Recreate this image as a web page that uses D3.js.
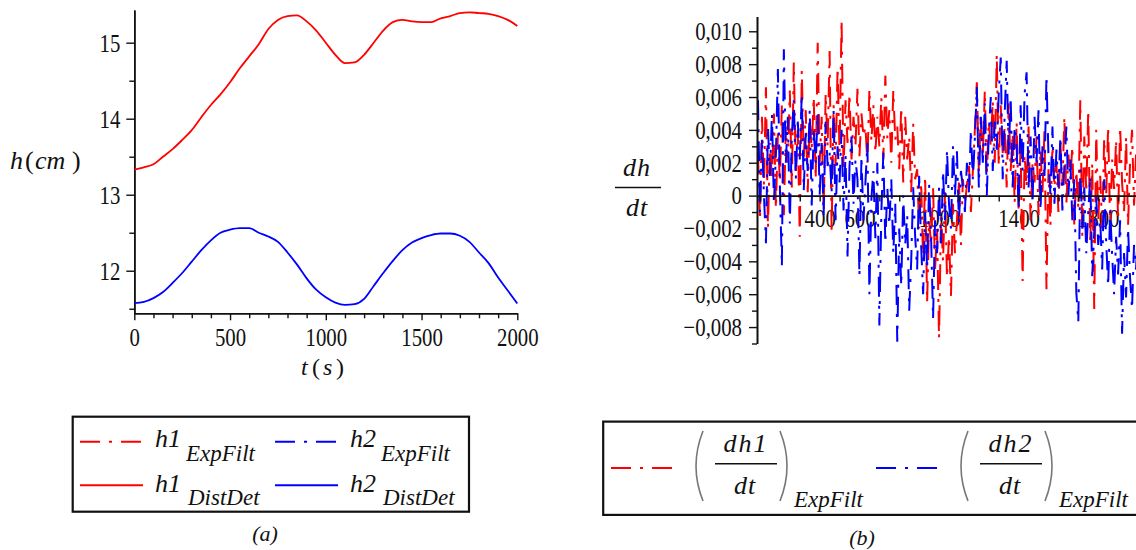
<!DOCTYPE html>
<html><head><meta charset="utf-8">
<script src="https://cdn.jsdelivr.net/npm/d3@7"></script>
<style>
body{margin:0;background:#fff}
svg{display:block}
text{font-family:"Liberation Serif","DejaVu Serif",serif;fill:#111}
</style>
</head><body>
<svg id="c" width="1136" height="550"></svg>
<script>
// ---------- DATA ----------
// (a) heights h(cm) vs t(s)
const tH = [0,50,100,150,200,250,300,350,400,450,500,550,600,650,700,750,800,850,900,950,1000,1050,1100,1150,1200,1250,1300,1350,1400,1450,1500,1550,1600,1650,1700,1750,1800,1850,1900,1950,2000];
const h1DistDet = [13.33,13.36,13.40,13.50,13.60,13.72,13.85,14.02,14.18,14.32,14.48,14.66,14.82,14.98,15.18,15.30,15.35,15.36,15.28,15.16,15.00,14.84,14.73,14.74,14.84,15.00,15.16,15.27,15.30,15.28,15.27,15.27,15.32,15.35,15.39,15.40,15.39,15.38,15.35,15.30,15.22];
const h2DistDet = [11.575,11.59,11.64,11.72,11.84,11.97,12.12,12.27,12.40,12.50,12.54,12.56,12.56,12.50,12.45,12.38,12.24,12.08,11.90,11.75,11.65,11.58,11.55,11.56,11.63,11.80,11.97,12.13,12.27,12.37,12.43,12.47,12.49,12.49,12.46,12.38,12.24,12.10,11.91,11.74,11.57];
const hMajorTicks = [12,13,14,15];
const hMinorTicks = [11.5,12.5,13.5,14.5];
const tMajorTicks = [0,500,1000,1500,2000];
const tMinorTicks = [100,200,300,400,600,700,800,900,1100,1200,1300,1400,1600,1700,1800,1900];

// (b) derivatives dh/dt (values in units of 0.001 cm/s)
const tD = [90,100,110,120,130,140,150,160,170,180,190,200,210,220,230,240,250,260,270,280,290,300,310,320,330,340,350,360,370,380,390,400,410,420,430,440,450,460,470,480,490,500,510,520,530,540,550,560,570,580,590,600,610,620,630,640,650,660,670,680,690,700,710,720,730,740,750,760,770,780,790,800,810,820,830,840,850,860,870,880,890,900,910,920,930,940,950,960,970,980,990,1000,1010,1020,1030,1040,1050,1060,1070,1080,1090,1100,1110,1120,1130,1140,1150,1160,1170,1180,1190,1200,1210,1220,1230,1240,1250,1260,1270,1280,1290,1300,1310,1320,1330,1340,1350,1360,1370,1380,1390,1400,1410,1420,1430,1440,1450,1460,1470,1480,1490,1500,1510,1520,1530,1540,1550,1560,1570,1580,1590,1600,1610,1620,1630,1640,1650,1660,1670,1680,1690,1700,1710,1720,1730,1740,1750,1760,1770,1780,1790,1800,1810,1820,1830,1840,1850,1860,1870,1880,1890,1900,1910,1920,1930,1940,1950,1960,1970,1980,1990,2000];
const dh1ExpFilt = [
 2.5,-1.5,4.8,0.6,6.6,-2.0,3.2,1.0,5.0,-0.8,
 3.8,0.8,5.6,-1.2,4.2,2.0,6.4,0.5,8.1,1.5,
 4.0,-2.5,7.6,2.2,5.2,0.2,4.6,2.8,6.0,1.0,
 9.3,2.0,4.8,-1.0,6.2,3.0,8.8,-2.3,5.5,1.8,
 7.8,2.6,10.7,1.5,5.8,3.2,6.2,2.2,4.8,3.0,
 6.5,2.4,5.0,3.6,4.2,2.0,6.5,3.3,5.5,2.6,
 4.8,3.0,6.0,2.2,7.3,3.5,5.2,2.0,6.4,3.4,
 4.2,1.6,5.4,0.8,4.8,2.2,3.6,0.2,4.4,1.0,
 1.6,-2.0,0.8,-4.0,1.2,-6.5,-1.5,-3.0,0.5,-4.5,
 -2.0,-8.7,-1.2,-4.0,0.2,-5.0,-2.5,-6.1,-0.5,-3.5,
 -1.5,0.8,-3.0,1.0,-0.5,0.6,2.0,-1.0,1.5,4.0,
 6.9,1.5,5.0,2.4,6.4,1.2,4.5,3.0,5.8,2.0,
 8.6,1.8,5.5,2.6,4.2,0.5,5.6,1.5,3.8,-0.5,
 4.5,-1.0,3.0,-5.2,2.5,0.5,4.2,-1.5,2.0,0.8,
 3.6,-1.2,2.8,0.2,4.0,-5.7,1.6,-1.8,3.0,0.5,
 2.0,-1.0,3.2,0.6,4.8,-0.5,2.5,1.0,3.0,-1.9,
 1.5,-0.8,5.8,-2.5,3.6,0.2,5.2,-2.9,2.0,-6.9,
 4.0,-1.5,1.2,-2.0,3.5,0.0,4.2,-1.9,2.2,0.4,
 3.4,-1.5,4.2,0.8,-1.0,3.6,-1.8,2.0,4.0,-0.6,
 2.5,-1.2];
const dh2ExpFilt = [
 5.8,-1.0,3.5,0.0,-2.9,4.2,1.2,5.0,-0.5,2.5,
 7.7,0.5,-4.3,8.9,2.0,4.8,-1.7,3.6,5.8,1.0,
 4.5,2.2,6.2,0.3,3.8,1.5,5.2,-0.6,4.0,2.0,
 5.0,0.0,3.2,-1.2,4.5,1.8,2.6,0.2,5.2,-1.5,
 3.0,0.8,4.0,-0.9,2.5,-3.7,1.8,3.6,-0.5,2.2,
 1.0,-4.9,2.4,-1.5,0.8,3.2,-6.0,-0.2,1.5,-2.6,
 2.0,-7.9,-1.0,2.6,-2.9,0.5,-1.8,1.0,-3.5,-0.5,
 -8.9,-2.0,-5.5,0.0,-3.0,-1.2,-7.0,-4.0,0.5,-2.5,
 -4.5,1.2,-3.0,-6.0,-1.0,-4.5,0.7,-2.5,-7.5,-1.5,
 -3.5,0.5,-2.9,1.5,-1.5,2.8,-0.5,-2.0,3.0,0.0,
 2.7,-1.7,1.5,0.5,-1.0,2.0,0.2,4.0,1.0,3.5,
 6.6,0.5,4.8,2.0,5.6,0.0,3.8,6.0,1.5,4.5,
 2.8,6.2,8.4,1.0,5.0,8.2,2.5,6.0,0.5,4.2,
 3.0,-0.9,5.5,1.5,6.2,7.5,0.5,3.6,-0.5,4.8,
 2.0,5.2,-0.9,3.0,1.2,7.3,2.4,0.0,4.2,-0.5,
 2.8,0.5,3.6,-0.9,1.8,4.2,0.0,2.2,-1.5,1.0,
 -5.9,-7.7,1.6,-2.0,0.5,-3.5,-1.0,1.2,-4.9,-2.2,
 0.0,-3.0,-1.5,-4.5,1.0,-2.8,-5.5,-0.9,-3.6,-6.0,
 -2.5,-4.8,-1.5,-8.4,-3.5,-6.2,-2.0,-5.0,-6.9,-3.0,
 -4.5,-2.0];
const dMajorTicks = [-8,-6,-4,-2,0,2,4,6,8,10];
const dMajorLabels = ["\u22120,008","\u22120,006","\u22120,004","\u22120,002","0","0,002","0,004","0,006","0,008","0,010"];
const dMinorTicks = [-9,-7,-5,-3,-1,1,3,5,7,9];
const tDLabelTicks = [400,600,1000,1400,1800];
const tDMinorTicks = [100,200,300,400,500,600,700,800,900,1000,1100,1200,1300,1400,1500,1600,1700,1800,1900,2000];

const RED = "#ff0000", BLUE = "#0000ff";
const DASHDOT = "20,9,3,9";

// ---------- DRAW ----------
const svg = d3.select("#c");
const LBL = 26, SX = 0.8;

function styleAxis(g){
  g.select(".domain").attr("stroke","#111").attr("stroke-width",1.6);
  g.selectAll(".tick line").attr("stroke","#111").attr("stroke-width",1.4);
  g.selectAll(".tick text").attr("font-size",LBL).attr("fill","#111")
    .style("font-family",'"Liberation Serif",serif');
}

// ===== (a) =====
const xL = d3.scaleLinear([0,2000],[134.3,517.3]);
const yL = d3.scaleLinear([11.44,15.43],[313.3,10]);

svg.append("g").attr("transform",`translate(0,${yL.range()[0]})`)
  .call(d3.axisBottom(xL).tickValues(tMinorTicks).tickSize(5).tickSizeOuter(0).tickFormat(""))
  .call(styleAxis);
svg.append("g").attr("transform",`translate(${xL.range()[0]},0)`)
  .call(d3.axisLeft(yL).tickValues(hMinorTicks).tickSize(5).tickSizeOuter(0).tickFormat(""))
  .call(styleAxis);
const gxL = svg.append("g").attr("transform",`translate(0,${yL.range()[0]})`)
  .call(d3.axisBottom(xL).tickValues(tMajorTicks).tickSize(7).tickSizeOuter(0).tickPadding(8).tickFormat(d3.format("d")))
  .call(styleAxis);
gxL.selectAll(".tick text").attr("dy","0.71em").attr("transform",`scale(${SX},1)`).attr("y",14);
const gyL = svg.append("g").attr("transform",`translate(${xL.range()[0]},0)`)
  .call(d3.axisLeft(yL).tickValues(hMajorTicks).tickSize(8).tickSizeOuter(0).tickFormat(d3.format("d")))
  .call(styleAxis);
gyL.selectAll(".tick text").attr("x",-14/SX).attr("transform",`scale(${SX},1)`);

const lineL = d3.line().x((d,i)=>xL(tH[i])).y(d=>yL(d)).curve(d3.curveMonotoneX);
svg.append("path").attr("d",lineL(h1DistDet)).attr("fill","none").attr("stroke",RED).attr("stroke-width",1.8);
svg.append("path").attr("d",lineL(h2DistDet)).attr("fill","none").attr("stroke",BLUE).attr("stroke-width",1.8);

function mathText(parts, y, fs){
  parts.forEach(p=>{
    svg.append("text").attr("x",p.x).attr("y",y).attr("font-size",fs)
      .attr("font-style",p.it?"italic":"normal").attr("fill",p.c||"#111").text(p.t);
  });
}
mathText([{t:"h",x:10,it:1},{t:"(",x:25,c:"#777"},{t:"cm",x:35,it:1},{t:")",x:72,c:"#777"}],169,26);
mathText([{t:"t",x:301,it:1},{t:"(",x:312,c:"#777"},{t:"s",x:323,it:1},{t:")",x:336,c:"#777"}],375,24);

// ===== (b) =====
const xR = d3.scaleLinear([85,2000],[757,1138]);
const yR = d3.scaleLinear([-9,10.9],[343.5,16.5]);

const gxRl = svg.append("g").attr("transform",`translate(0,${yR(0)})`)
  .call(d3.axisBottom(xR).tickValues(tDLabelTicks).tickSize(0).tickFormat(d3.format("d")))
  .call(styleAxis);
gxRl.select(".domain").remove();
gxRl.selectAll(".tick text").attr("dy","0.71em").attr("y",13).attr("transform",`scale(${SX},1)`);

const lineR = d3.line().x((d,i)=>xR(tD[i])).y(d=>yR(d));
[[dh1ExpFilt,RED],[dh2ExpFilt,BLUE]].forEach(([s,c])=>{
  svg.append("path").attr("d",lineR(s)).attr("fill","none").attr("stroke",c)
    .attr("stroke-width",2).attr("stroke-dasharray",DASHDOT).attr("stroke-linejoin","bevel");
});

svg.append("g").attr("transform",`translate(0,${yR(0)})`)
  .call(d3.axisBottom(xR).tickValues(tDMinorTicks).tickSize(6).tickSizeOuter(0).tickFormat(""))
  .call(styleAxis);
svg.append("g").attr("transform",`translate(${xR.range()[0]},0)`)
  .call(d3.axisLeft(yR).tickValues(dMinorTicks).tickSize(5).tickSizeOuter(0).tickFormat(""))
  .call(styleAxis);
const gyR = svg.append("g").attr("transform",`translate(${xR.range()[0]},0)`)
  .call(d3.axisLeft(yR).tickValues(dMajorTicks).tickSize(8).tickSizeOuter(0).tickFormat((d,i)=>dMajorLabels[i]))
  .call(styleAxis);
gyR.selectAll(".tick text").attr("x",-15/SX).attr("transform",`scale(${SX},1)`);

svg.append("text").attr("x",637).attr("y",176).attr("text-anchor","middle").attr("font-size",26).attr("font-style","italic").attr("letter-spacing",1).text("dh");
svg.append("line").attr("x1",615).attr("x2",661).attr("y1",187.5).attr("y2",187.5).attr("stroke","#111").attr("stroke-width",1.5);
svg.append("text").attr("x",637).attr("y",216).attr("text-anchor","middle").attr("font-size",26).attr("font-style","italic").attr("letter-spacing",1).text("dt");

// ===== legends =====
const legendA = [
  {main:"h1",sub:"ExpFilt",color:RED,dash:DASHDOT,col:0,row:0},
  {main:"h2",sub:"ExpFilt",color:BLUE,dash:DASHDOT,col:1,row:0},
  {main:"h1",sub:"DistDet",color:RED,dash:null,col:0,row:1},
  {main:"h2",sub:"DistDet",color:BLUE,dash:null,col:1,row:1}
];
svg.append("rect").attr("x",72.7).attr("y",416.7).attr("width",396.3).attr("height",95)
  .attr("fill","none").attr("stroke","#111").attr("stroke-width",2.2);
legendA.forEach(e=>{
  const x0 = 80 + e.col*195, ly = 441.7 + e.row*43.5;
  svg.append("line").attr("x1",x0).attr("x2",x0+63).attr("y1",ly).attr("y2",ly)
    .attr("stroke",e.color).attr("stroke-width",2).attr("stroke-dasharray",e.dash);
  svg.append("text").attr("x",x0+75).attr("y",ly+5.5+e.row*1.5).attr("font-size",26).attr("font-style","italic").text(e.main);
  svg.append("text").attr("x",x0+106+e.row*2).attr("y",ly+19.5+e.row*0.5).attr("font-size",23).attr("font-style","italic").text(e.sub);
});
svg.append("text").attr("x",265).attr("y",541).attr("text-anchor","middle").attr("font-size",22).attr("font-style","italic").text("(a)");

const legendB = [
  {num:"dh1",den:"dt",sub:"ExpFilt",color:RED},
  {num:"dh2",den:"dt",sub:"ExpFilt",color:BLUE}
];
svg.append("rect").attr("x",603.2).attr("y",421.6).attr("width",560).attr("height",93.3)
  .attr("fill","none").attr("stroke","#111").attr("stroke-width",2.2);
legendB.forEach((e,i)=>{
  const x0 = 611 + i*265;
  svg.append("line").attr("x1",x0).attr("x2",x0+64).attr("y1",468).attr("y2",468)
    .attr("stroke",e.color).attr("stroke-width",2).attr("stroke-dasharray",DASHDOT);
  const pl = x0+86, pr = x0+175;
  svg.append("path").attr("d",`M${pl+6},431 Q${pl-8},466 ${pl+6},501`).attr("fill","none").attr("stroke","#777").attr("stroke-width",1.6);
  svg.append("path").attr("d",`M${pr-6},431 Q${pr+8},466 ${pr-6},501`).attr("fill","none").attr("stroke","#777").attr("stroke-width",1.6);
  const cx = x0+135;
  svg.append("text").attr("x",cx).attr("y",452).attr("text-anchor","middle").attr("font-size",26).attr("font-style","italic").attr("letter-spacing",2).text(e.num);
  svg.append("line").attr("x1",cx-31).attr("x2",cx+31).attr("y1",463.7).attr("y2",463.7).attr("stroke","#111").attr("stroke-width",1.5);
  svg.append("text").attr("x",cx-1).attr("y",494).attr("text-anchor","middle").attr("font-size",26).attr("font-style","italic").attr("letter-spacing",1).text(e.den);
  svg.append("text").attr("x",pr+8).attr("y",507).attr("font-size",23).attr("font-style","italic").text(e.sub);
});
svg.append("text").attr("x",862).attr("y",545).attr("text-anchor","middle").attr("font-size",22).attr("font-style","italic").text("(b)");
</script>
</body></html>
